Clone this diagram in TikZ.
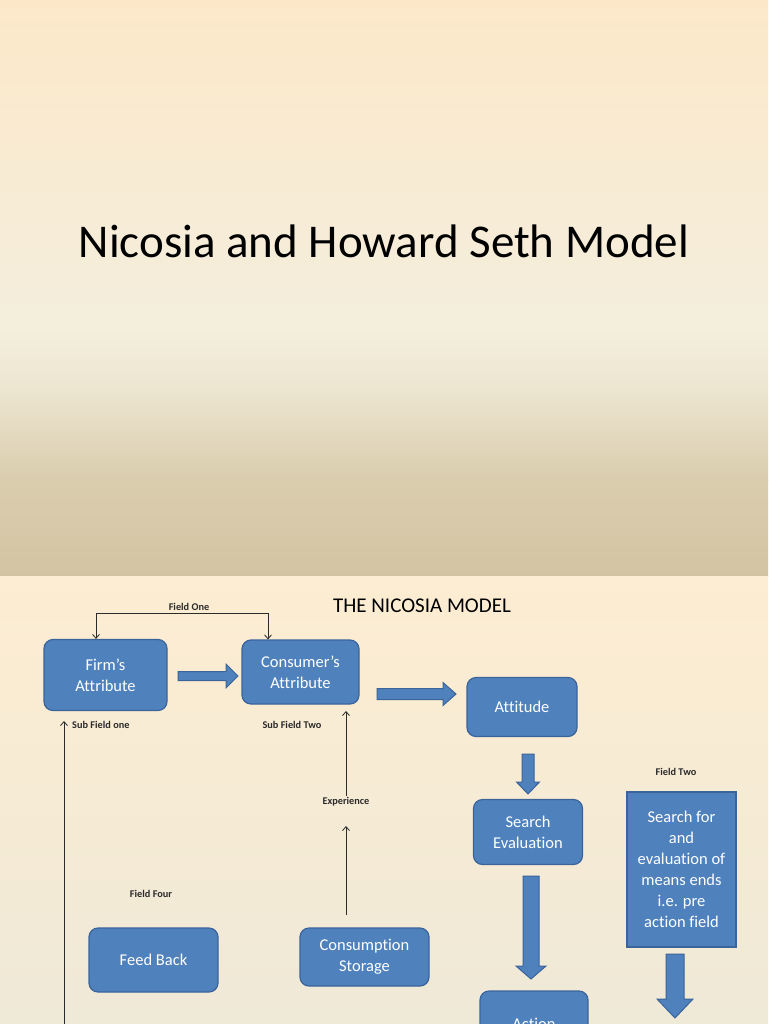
\documentclass[tikz,border=0pt]{standalone}
\usepackage{fontspec}
\setmainfont{Carlito}[Ligatures={TeX,NoCommon}]
\usetikzlibrary{arrows.meta}
\definecolor{boxblue}{HTML}{4F81BD}
\definecolor{boxedge}{HTML}{3A649A}
\definecolor{linegray}{HTML}{2B2B2B}
\definecolor{topA}{HTML}{FCE8C9}
\definecolor{topB}{HTML}{F4EEDD}
\definecolor{topC}{HTML}{EDE6D1}
\definecolor{topD}{HTML}{DACDAE}
\definecolor{topE}{HTML}{D3C5A3}
\definecolor{botA}{HTML}{FDEDD2}
\definecolor{botB}{HTML}{EFE9D7}
\tikzset{
  bluebox/.style={draw=boxedge, line width=1.2pt, fill=boxblue, rounded corners=9pt,
    text=white, font=\fontsize{16.5}{21}\selectfont, align=center, inner sep=0pt},
  smalllabel/.style={font=\bfseries\fontsize{10.3}{12}\selectfont, text=linegray, inner sep=1pt},
  thinarrow/.style={draw=linegray, line width=0.8pt, -{Straight Barb[length=4pt,width=7pt]}},
  barrowfill/.style={fill=boxblue, draw=boxedge, line width=1pt},
  pics/barrow/.style n args={4}{code={
    \filldraw[barrowfill] (0,-#2) -- ({#1-#4},-#2) -- ({#1-#4},-#3) -- (#1,0)
      -- ({#1-#4},#3) -- ({#1-#4},#2) -- (0,#2) -- cycle;}}
}
\begin{document}
\begin{tikzpicture}[x=1pt,y=-1pt]
\useasboundingbox (0,0) rectangle (768,1024);
% backgrounds
\shade[top color=topA, bottom color=topB] (0,0) rectangle (768,330);
\shade[top color=topB, bottom color=topC] (0,330) rectangle (768,385);
\shade[top color=topC, bottom color=topD] (0,385) rectangle (768,480);
\shade[top color=topD, bottom color=topE] (0,480) rectangle (768,576);
\shade[top color=botA, bottom color=botB] (0,576) rectangle (768,1024);

% top slide title
\node[font=\fontsize{47}{50}\selectfont, text=black] (title) at (384,241) {Nicosia and Howard Seth Model};

% bottom slide
\node[font=\fontsize{21}{24}\selectfont, text=black] (heading) at (422,606) {THE NICOSIA MODEL};

\node[bluebox, minimum width=123pt, minimum height=71pt] (firm) at (105.5,675) {Firm’s\\Attribute};
\node[bluebox, minimum width=117pt, minimum height=64pt] (consumer) at (300.5,672) {Consumer\symbol{39}s\\Attribute};
\node[bluebox, minimum width=110pt, minimum height=59pt] (attitude) at (522,707) {Attitude};
\node[bluebox, minimum width=109pt, minimum height=65pt] (search) at (528,832) {Search\\Evaluation};
\node[bluebox, rounded corners=0pt, minimum width=109pt, minimum height=155pt] (means) at (681.5,869.5)
  {Search for\\and\\evaluation of\\means ends\\i.e. pre\\action field};
\node[bluebox, minimum width=129pt, minimum height=64pt] (feedback) at (153.5,960) {Feed Back};
\node[bluebox, minimum width=129pt, minimum height=58pt] (consumption) at (364.5,957) {Consumption\\Storage};
\node[bluebox, minimum width=108pt, minimum height=66pt] (action) at (534,1024) {Action};

% labels
\node[smalllabel] (fieldone) at (189,607) {Field One};
\node[smalllabel, anchor=west] (subone) at (71,725) {Sub Field one};
\node[smalllabel] (subtwo) at (292,725) {Sub Field Two};
\node[smalllabel] (experience) at (346,802) {Experience};
\node[smalllabel] (fieldfour) at (151,894) {Field Four};
\node[smalllabel] (fieldtwo) at (676,772) {Field Two};

% thin connectors
\coordinate (fl) at (96,613);
\coordinate (fr) at (268,613);
\draw[thinarrow, {Straight Barb[length=4pt,width=7pt]}-{Straight Barb[length=4pt,width=7pt]}]
  (firm.north -| fl) -- (fl) -- (fr) -- (consumer.north -| fr);
\coordinate (sfbot) at (64,1030);
\coordinate (sftop) at (64,721);
\draw[thinarrow] (sfbot) -- (sftop);
\coordinate (exptop) at (346,711);
\draw[thinarrow] (experience.north) -- (exptop);
\coordinate (csbot) at (346,915);
\coordinate (csmid) at (346,826);
\draw[thinarrow] (csbot) -- (csmid);

% block arrows
\pic (a1) at (178,676) {barrow={60}{4.5}{12}{12}};
\pic (a2) at (377,694) {barrow={79}{5.5}{11.5}{13}};
\pic[rotate=-90] (a3) at (528,754) {barrow={40}{6}{11.5}{12}};
\pic[rotate=-90] (a4) at (531,876) {barrow={103}{8}{15}{13}};
\pic[rotate=-90] (a5) at (675,954) {barrow={64}{9}{18}{19}};
\end{tikzpicture}
\end{document}
